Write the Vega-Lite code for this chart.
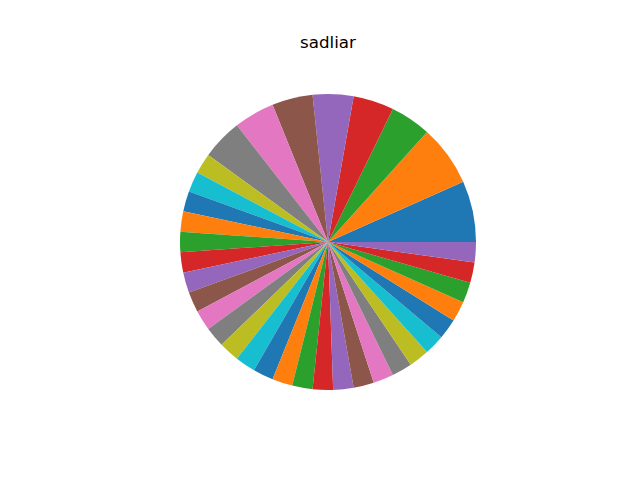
{
  "$schema": "https://vega.github.io/schema/vega-lite/v6.json",
  "width": 296,
  "height": 296,
  "autosize": {"type": "none"},
  "padding": {"left": 180, "top": 94, "right": 0, "bottom": 0},
  "background": "white",
  "view": {"stroke": null},
  "title": {
    "text": "sadliar",
    "font": "DejaVu Sans",
    "fontSize": 16.7,
    "fontWeight": "normal",
    "color": "black",
    "anchor": "middle",
    "baseline": "alphabetic",
    "offset": 29
  },
  "data": {
    "values": [
      {"idx": 1, "v": 3}, {"idx": 2, "v": 3}, {"idx": 3, "v": 2}, {"idx": 4, "v": 2},
      {"idx": 5, "v": 2}, {"idx": 6, "v": 2}, {"idx": 7, "v": 2}, {"idx": 8, "v": 2},
      {"idx": 9, "v": 1}, {"idx": 10, "v": 1}, {"idx": 11, "v": 1}, {"idx": 12, "v": 1},
      {"idx": 13, "v": 1}, {"idx": 14, "v": 1}, {"idx": 15, "v": 1}, {"idx": 16, "v": 1},
      {"idx": 17, "v": 1}, {"idx": 18, "v": 1}, {"idx": 19, "v": 1}, {"idx": 20, "v": 1},
      {"idx": 21, "v": 1}, {"idx": 22, "v": 1}, {"idx": 23, "v": 1}, {"idx": 24, "v": 1},
      {"idx": 25, "v": 1}, {"idx": 26, "v": 1}, {"idx": 27, "v": 1}, {"idx": 28, "v": 1},
      {"idx": 29, "v": 1}, {"idx": 30, "v": 1}, {"idx": 31, "v": 1}, {"idx": 32, "v": 1},
      {"idx": 33, "v": 1}, {"idx": 34, "v": 1}, {"idx": 35, "v": 1}
    ]
  },
  "mark": {"type": "arc"},
  "encoding": {
    "theta": {
      "field": "v",
      "type": "quantitative",
      "stack": true,
      "scale": {"range": [1.5707963, -4.712389]}
    },
    "order": {"field": "idx", "type": "quantitative", "sort": "ascending"},
    "color": {
      "field": "idx",
      "type": "ordinal",
      "legend": null,
      "scale": {
        "range": ["#1f77b4", "#ff7f0e", "#2ca02c", "#d62728", "#9467bd", "#8c564b", "#e377c2", "#7f7f7f", "#bcbd22", "#17becf"]
      }
    }
  }
}
